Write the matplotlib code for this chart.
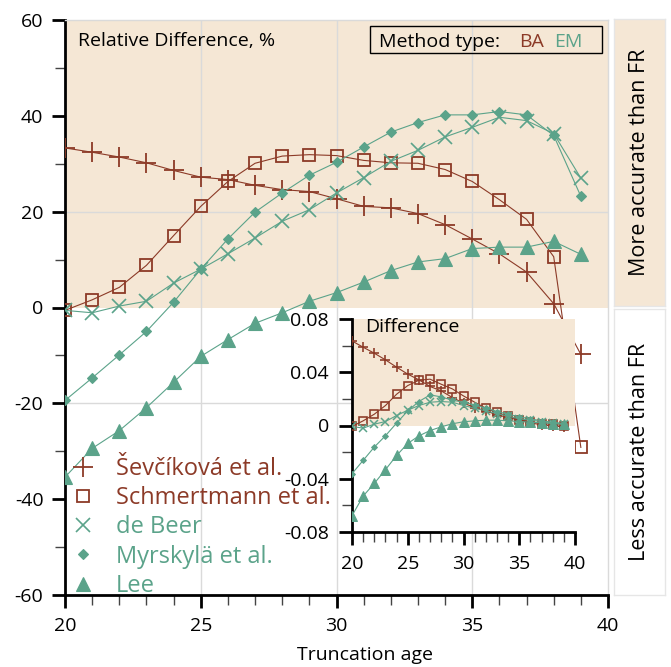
import matplotlib
matplotlib.use("Agg")
import matplotlib.pyplot as plt
from matplotlib.lines import Line2D
from matplotlib.patches import Rectangle
from matplotlib.ticker import MultipleLocator, FixedLocator

plt.rcParams['font.family'] = ['Open Sans', 'DejaVu Sans']
plt.rcParams['axes.unicode_minus'] = False

# ---------------- data ----------------
ages = list(range(20, 40))
series_names = ["Ševčíková et al.", "Schmertmann et al.", "de Beer", "Myrskylä et al.", "Lee"]

sev_main = [33.3, 32.4, 31.4, 30.2, 28.6, 27.2, 26.7, 25.5, 24.6, 24.2, 22.7, 21.1, 20.8, 19.6, 17.3, 14.3, 11.2, 7.4, 0.8, -9.8]
sch_main = [-0.6, 1.6, 4.2, 8.8, 15.0, 21.1, 26.3, 30.1, 31.6, 31.9, 31.7, 30.7, 30.2, 30.1, 28.8, 26.3, 22.5, 18.4, 10.6, -29.2]
deb_main = [-0.6, -1.1, 0.3, 1.3, 5.1, 8.0, 11.2, 14.5, 18.0, 20.4, 23.9, 27.1, 30.5, 32.8, 35.6, 37.6, 39.7, 39.0, 36.3, 27.0]
myr_main = [-19.4, -14.7, -9.9, -5.0, 1.1, 8.0, 14.3, 19.9, 23.9, 27.6, 30.3, 33.5, 36.6, 38.6, 40.2, 40.2, 40.9, 40.2, 35.9, 23.2]
lee_main = [-35.4, -29.4, -25.7, -20.9, -15.6, -10.2, -6.7, -3.3, -1.1, 1.3, 3.1, 5.3, 7.7, 9.5, 10.2, 12.3, 12.6, 12.6, 13.8, 11.1]

sev_in = [0.0635, 0.0588, 0.0543, 0.0493, 0.0438, 0.0386, 0.0343, 0.0293, 0.026, 0.021, 0.0168, 0.0135, 0.011, 0.008, 0.006, 0.004, 0.002, 0.0005, -0.0005, -0.001]
sch_in = [-0.0007, 0.0035, 0.0085, 0.015, 0.0235, 0.030, 0.034, 0.0348, 0.031, 0.0275, 0.0222, 0.0175, 0.013, 0.0098, 0.0068, 0.0045, 0.0028, 0.0015, 0.0008, 0.0]
deb_in = [-0.0007, -0.002, 0.001, 0.003, 0.0075, 0.0115, 0.015, 0.0175, 0.018, 0.0175, 0.015, 0.013, 0.011, 0.009, 0.007, 0.005, 0.004, 0.003, 0.002, 0.001]
myr_in = [-0.0362, -0.0262, -0.0162, -0.0077, 0.0018, 0.011, 0.018, 0.023, 0.0215, 0.019, 0.0175, 0.0155, 0.013, 0.0105, 0.0085, 0.0065, 0.005, 0.0035, 0.0025, 0.0015]
lee_in = [-0.0678, -0.053, -0.0435, -0.0332, -0.0225, -0.0135, -0.0078, -0.0038, -0.001, 0.0013, 0.0028, 0.0035, 0.004, 0.004, 0.0035, 0.003, 0.0025, 0.002, 0.0015, 0.001]

main_vals = [sev_main, sch_main, deb_main, myr_main, lee_main]
inset_vals = [sev_in, sch_in, deb_in, myr_in, lee_in]

x_major = [20, 25, 30, 35, 40]
main_y_major = [-60, -40, -20, 0, 20, 40, 60]
inset_y_major = [-0.08, -0.04, 0, 0.04, 0.08]
inset_y_labels = ["-0.08", "-0.04", "0", "0.04", "0.08"]

# ---------------- styles ----------------
BA = '#8C3A27'
EM = '#5BA38A'
SHADE = '#F5E7D5'
GRID = '#DADADA'
FS = 14

colors = [BA, BA, EM, EM, EM]
markers = ['+', 's', 'x', 'D', '^']
main_ms = [14, 8.3, 9.5, 4.8, 10]
inset_ms = [7.5, 5.5, 5.5, 3.0, 7]
mfcs = [BA, 'none', EM, EM, EM]
mews = [1.3, 1.3, 1.2, 0.8, 0.8]

W, H = 671, 667
fig = plt.figure(figsize=(W / 100, H / 100), dpi=100)

def fx(px):
    return px / W

def fy(py):
    return 1 - py / H

# ---------------- main axes ----------------
ax = fig.add_axes([fx(65), fy(595), (608 - 65) / W, (595 - 20) / H])
ax.set_xlim(20, 40)
ax.set_ylim(-60, 60)
ax.axhspan(0, 60, color=SHADE, lw=0, zorder=0)
for gx in [25, 30, 35]:
    ax.axvline(gx, color=GRID, lw=1, zorder=0.5)
for gy in [-20, 20]:
    ax.axhline(gy, color=GRID, lw=1, zorder=0.5)

for vals, c, m, ms, mfc, mew in zip(main_vals, colors, markers, main_ms, mfcs, mews):
    ax.plot(ages, vals, color=c, lw=0.8, marker=m, ms=ms, mfc=mfc, mec=c, mew=mew, zorder=3)

for s in ['left', 'bottom']:
    ax.spines[s].set_linewidth(2)
    ax.spines[s].set_color('black')
for s in ['top', 'right']:
    ax.spines[s].set_linewidth(1)
    ax.spines[s].set_color(GRID)

ax.xaxis.set_major_locator(FixedLocator(x_major))
ax.xaxis.set_minor_locator(MultipleLocator(1))
ax.yaxis.set_major_locator(FixedLocator(main_y_major))
ax.yaxis.set_minor_locator(MultipleLocator(10))
ax.tick_params(which='major', direction='out', length=9.5, width=2, labelsize=FS, pad=6, color='black')
ax.tick_params(which='minor', direction='out', length=7.5, width=1, color='#444444')
ax.tick_params(top=False, right=False, which='both')

ax.text(0.024, 0.955, "Relative Difference, %", transform=ax.transAxes, fontsize=FS, va='baseline')

# Method type box
ax.add_patch(Rectangle((0.5617, 0.9426), 0.4273, 0.047, transform=ax.transAxes, fill=False,
                       ec='black', lw=1, zorder=5))
ax.text(0.578, 0.953, "Method type:", transform=ax.transAxes, fontsize=FS, va='baseline', zorder=6)
ax.text(0.836, 0.953, "BA", transform=ax.transAxes, fontsize=FS, va='baseline', color=BA, zorder=6)
ax.text(0.901, 0.953, "EM", transform=ax.transAxes, fontsize=FS, va='baseline', color=EM, zorder=6)

# legend
handles = [Line2D([], [], ls='none', marker=m, ms=ms, mfc=mfc, mec=c, mew=mew)
           for c, m, ms, mfc, mew in zip(colors, markers, main_ms, mfcs, mews)]
leg = ax.legend(handles, series_names, loc='lower left', bbox_to_anchor=(0.011, -0.005),
                frameon=False, fontsize=17, handlelength=1.0, handletextpad=0.9,
                labelspacing=0.22, borderpad=0, borderaxespad=0)
for t, c in zip(leg.get_texts(), colors):
    t.set_color(c)

fig.text(fx(365), fy(655), "Truncation age", fontsize=FS, ha='center', va='center')

# ---------------- right panel ----------------
axr1 = fig.add_axes([fx(614), fy(306), 51 / W, (306 - 19) / H])
axr1.set_facecolor(SHADE)
axr2 = fig.add_axes([fx(614), fy(595), 51 / W, (595 - 309) / H])
axr2.set_facecolor('white')
for a, txt in [(axr1, "More accurate than FR"), (axr2, "Less accurate than FR")]:
    a.set_xticks([])
    a.set_yticks([])
    for s in a.spines.values():
        s.set_color('#E6E6E6')
        s.set_linewidth(1)
    a.text(0.5, 0.5, txt, rotation=90, ha='center', va='center', fontsize=15.5, transform=a.transAxes)

# ---------------- inset ----------------
axin = fig.add_axes([fx(352), fy(532), (575 - 352) / W, (532 - 319) / H])
axin.set_facecolor('white')
axin.set_xlim(20, 40)
axin.set_ylim(-0.08, 0.08)
axin.axhspan(0, 0.08, color=SHADE, lw=0, zorder=0)
for vals, c, m, ms, mfc, mew in zip(inset_vals, colors, markers, inset_ms, mfcs, mews):
    axin.plot(ages, vals, color=c, lw=0.8, marker=m, ms=ms, mfc=mfc, mec=c, mew=mew * 0.9, zorder=3)
for s in ['left', 'bottom']:
    axin.spines[s].set_linewidth(2)
    axin.spines[s].set_color('black')
for s in ['top', 'right']:
    axin.spines[s].set_visible(False)
axin.xaxis.set_major_locator(FixedLocator(x_major))
axin.xaxis.set_minor_locator(MultipleLocator(1))
axin.yaxis.set_major_locator(FixedLocator(inset_y_major))
axin.set_yticklabels(inset_y_labels)
axin.yaxis.set_minor_locator(MultipleLocator(0.02))
axin.tick_params(which='major', direction='out', length=9.5, width=2, labelsize=FS, pad=7)
axin.tick_params(which='minor', direction='out', length=7.5, width=1, color='#444444')
axin.tick_params(top=False, right=False, which='both')
axin.text(0.058, 0.94, "Difference", transform=axin.transAxes, fontsize=FS, va='baseline')

fig.savefig("out.png", dpi=100)
